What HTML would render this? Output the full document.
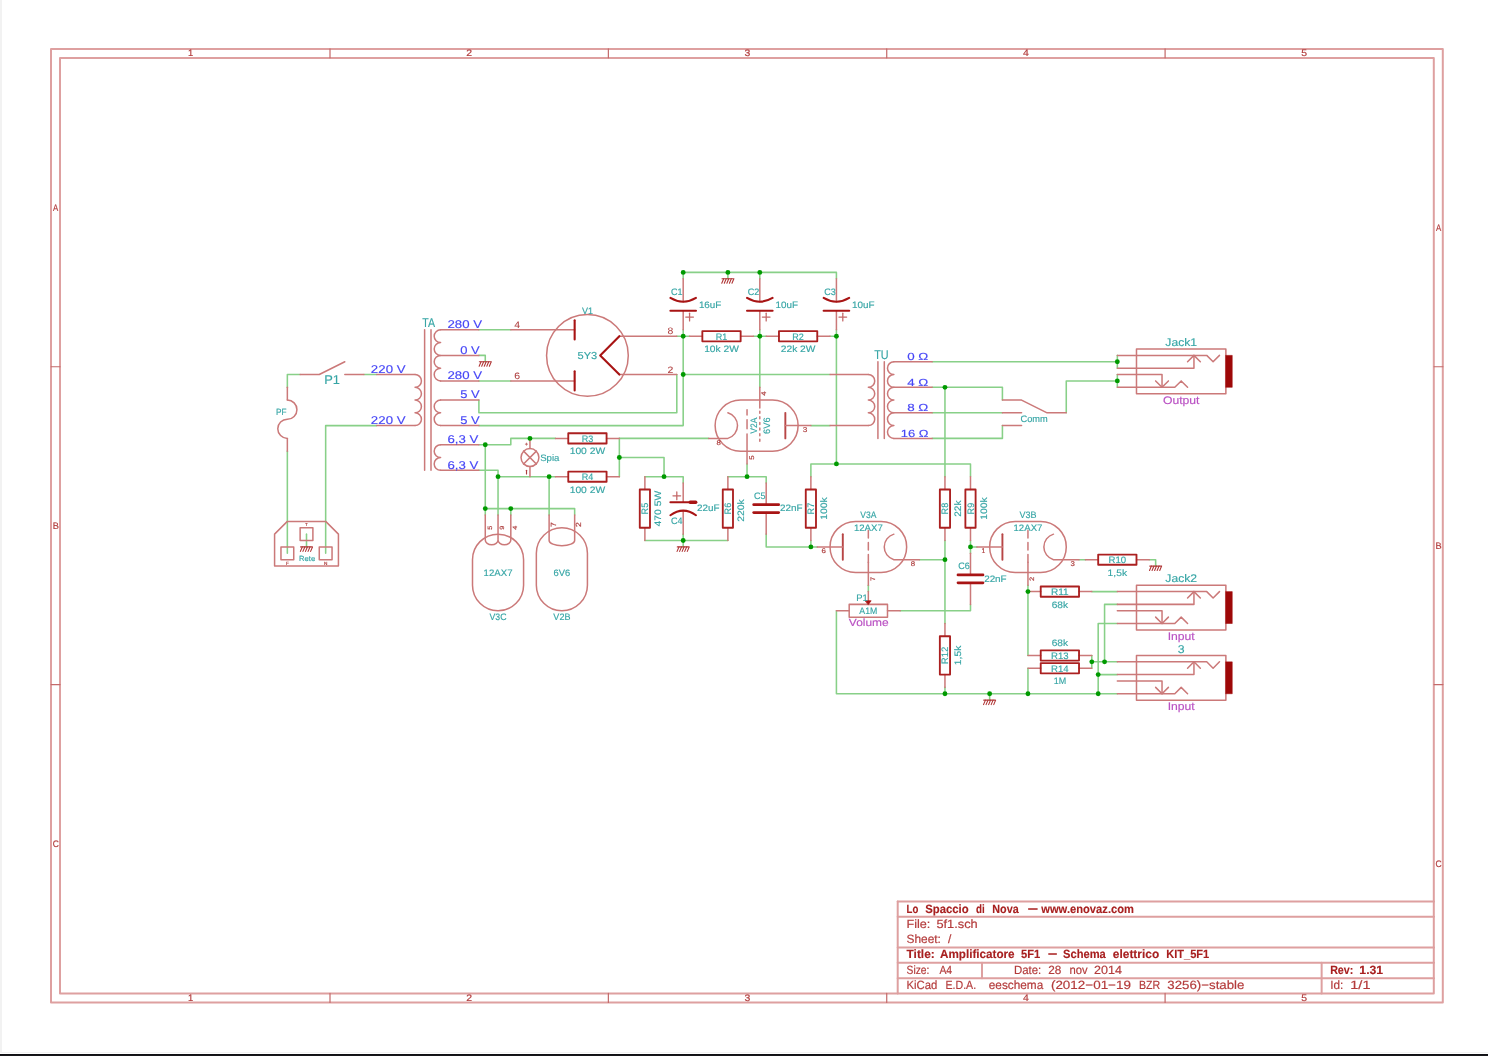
<!DOCTYPE html>
<html lang="it"><head><meta charset="utf-8"><title>Amplificatore 5F1 - Schema elettrico KIT_5F1</title>
<style>
html,body{margin:0;padding:0;background:#fff;}
body{width:1488px;height:1056px;overflow:hidden;position:relative;}
#edgeL{position:absolute;left:0;top:0;width:2px;height:1053px;background:#f2f2f2;}
#edgeG{position:absolute;left:0;top:1052px;width:1488px;height:1px;background:#f3f3f3;}
#edgeB{position:absolute;left:0;top:1054px;width:1488px;height:2px;background:linear-gradient(#0d0d11,#1b1b1f);}
svg{position:absolute;left:0;top:0;will-change:transform;}
svg text{font-family:"Liberation Sans",sans-serif;text-rendering:geometricPrecision;}
svg path,svg rect,svg circle{stroke-linecap:round;stroke-linejoin:round;}
</style></head><body>
<svg width="1488" height="1056" viewBox="0 0 1488 1056">
<g transform="translate(0.05,-2.15) scale(0.12769)">
<g stroke="#dea0a0" stroke-width="15.66" fill="none">
<rect x="399.01" y="400.58" width="10899.84" height="7467.30"/>
<rect x="469.50" y="471.06" width="10758.87" height="7326.34"/>
<path d="M2584,400 V470 M2584,7797 V7867" stroke="#c46a6a" stroke-width="9.5" stroke-linecap="butt"/>
<path d="M4764,400 V470 M4764,7797 V7867" stroke="#c46a6a" stroke-width="9.5" stroke-linecap="butt"/>
<path d="M6944,400 V470 M6944,7797 V7867" stroke="#c46a6a" stroke-width="9.5" stroke-linecap="butt"/>
<path d="M9124,400 V470 M9124,7797 V7867" stroke="#c46a6a" stroke-width="9.5" stroke-linecap="butt"/>
<path d="M400,2889 H470 M11230,2889 H11300" stroke="#c46a6a" stroke-width="9.5" stroke-linecap="butt"/>
<path d="M400,5378 H470 M11230,5378 H11300" stroke="#c46a6a" stroke-width="9.5" stroke-linecap="butt"/>
<path d="M7030,7077 H11230"/>
<path d="M7030,7197 H11230"/>
<path d="M7030,7437 H11230"/>
<path d="M7030,7557 H11230"/>
<path d="M7030,7677 H11230"/>
<path d="M7030,7077 V7797"/>
<path d="M7690,7557 V7677"/>
<path d="M10350,7557 V7797"/>
</g>
<text x="1493.0" y="457.2" font-size="73.3" fill="#b23c3c" stroke="#b23c3c" stroke-width="1.5" text-anchor="middle">1</text>
<text x="1493.0" y="7856.2" font-size="73.3" fill="#b23c3c" stroke="#b23c3c" stroke-width="1.5" text-anchor="middle">1</text>
<text x="3673.0" y="457.2" font-size="73.3" fill="#b23c3c" stroke="#b23c3c" stroke-width="1.5" text-anchor="middle" textLength="45.5" lengthAdjust="spacingAndGlyphs">2</text>
<text x="3673.0" y="7856.2" font-size="73.3" fill="#b23c3c" stroke="#b23c3c" stroke-width="1.5" text-anchor="middle" textLength="45.5" lengthAdjust="spacingAndGlyphs">2</text>
<text x="5853.0" y="457.2" font-size="73.3" fill="#b23c3c" stroke="#b23c3c" stroke-width="1.5" text-anchor="middle" textLength="45.5" lengthAdjust="spacingAndGlyphs">3</text>
<text x="5853.0" y="7856.2" font-size="73.3" fill="#b23c3c" stroke="#b23c3c" stroke-width="1.5" text-anchor="middle" textLength="45.5" lengthAdjust="spacingAndGlyphs">3</text>
<text x="8033.0" y="457.2" font-size="73.3" fill="#b23c3c" stroke="#b23c3c" stroke-width="1.5" text-anchor="middle" textLength="45.5" lengthAdjust="spacingAndGlyphs">4</text>
<text x="8033.0" y="7856.2" font-size="73.3" fill="#b23c3c" stroke="#b23c3c" stroke-width="1.5" text-anchor="middle" textLength="45.5" lengthAdjust="spacingAndGlyphs">4</text>
<text x="10213.0" y="457.2" font-size="73.3" fill="#b23c3c" stroke="#b23c3c" stroke-width="1.5" text-anchor="middle" textLength="45.5" lengthAdjust="spacingAndGlyphs">5</text>
<text x="10213.0" y="7856.2" font-size="73.3" fill="#b23c3c" stroke="#b23c3c" stroke-width="1.5" text-anchor="middle" textLength="45.5" lengthAdjust="spacingAndGlyphs">5</text>
<text x="436.0" y="1670.8" font-size="73.3" fill="#b23c3c" stroke="#b23c3c" stroke-width="1.5" text-anchor="middle" textLength="40.7" lengthAdjust="spacingAndGlyphs">A</text>
<text x="11266.0" y="1825.8" font-size="73.3" fill="#b23c3c" stroke="#b23c3c" stroke-width="1.5" text-anchor="middle" textLength="40.7" lengthAdjust="spacingAndGlyphs">A</text>
<text x="436.0" y="4159.8" font-size="73.3" fill="#b23c3c" stroke="#b23c3c" stroke-width="1.5" text-anchor="middle" textLength="47.9" lengthAdjust="spacingAndGlyphs">B</text>
<text x="11266.0" y="4314.8" font-size="73.3" fill="#b23c3c" stroke="#b23c3c" stroke-width="1.5" text-anchor="middle" textLength="47.9" lengthAdjust="spacingAndGlyphs">B</text>
<text x="436.0" y="6648.8" font-size="73.3" fill="#b23c3c" stroke="#b23c3c" stroke-width="1.5" text-anchor="middle" textLength="47.9" lengthAdjust="spacingAndGlyphs">C</text>
<text x="11266.0" y="6803.8" font-size="73.3" fill="#b23c3c" stroke="#b23c3c" stroke-width="1.5" text-anchor="middle" textLength="47.9" lengthAdjust="spacingAndGlyphs">C</text>
<path d="M2250,3050 L2250,2950 L2350,2950" stroke="#88d088" stroke-width="12.2" fill="none"/>
<path d="M2850,2950 L2950,2950" stroke="#88d088" stroke-width="12.2" fill="none"/>
<path d="M2250,3550 L2250,4350" stroke="#88d088" stroke-width="12.2" fill="none"/>
<path d="M2950,3350 L2550,3350 L2550,4350" stroke="#88d088" stroke-width="12.2" fill="none"/>
<path d="M2400,4200 L2400,4300" stroke="#88d088" stroke-width="12.2" fill="none"/>
<path d="M3750,2600 L4000,2600" stroke="#88d088" stroke-width="12.2" fill="none"/>
<path d="M3750,3000 L4000,3000" stroke="#88d088" stroke-width="12.2" fill="none"/>
<path d="M3750,2800 L3800,2800 L3800,2850" stroke="#88d088" stroke-width="12.2" fill="none"/>
<path d="M3750,3150 L3750,3250 L5300,3250 L5300,2950" stroke="#88d088" stroke-width="12.2" fill="none"/>
<path d="M3750,3350 L5350,3350 L5350,2600" stroke="#88d088" stroke-width="12.2" fill="none"/>
<path d="M5300,2650 L5400,2650" stroke="#88d088" stroke-width="12.2" fill="none"/>
<path d="M5350,2950 L6500,2950" stroke="#88d088" stroke-width="12.2" fill="none"/>
<path d="M5350,2200 L5350,2150 L6550,2150 L6550,2200" stroke="#88d088" stroke-width="12.2" fill="none"/>
<path d="M5700,2150 L5700,2200" stroke="#88d088" stroke-width="12.2" fill="none"/>
<path d="M5950,2150 L5950,2200" stroke="#88d088" stroke-width="12.2" fill="none"/>
<path d="M5900,2650 L6000,2650" stroke="#88d088" stroke-width="12.2" fill="none"/>
<path d="M5950,2600 L5950,3050" stroke="#88d088" stroke-width="12.2" fill="none"/>
<path d="M6500,2650 L6550,2650" stroke="#88d088" stroke-width="12.2" fill="none"/>
<path d="M6550,2600 L6550,3650" stroke="#88d088" stroke-width="12.2" fill="none"/>
<path d="M3750,3500 L4000,3500 L4000,3450 L4350,3450" stroke="#88d088" stroke-width="12.2" fill="none"/>
<path d="M3750,3700 L3900,3700 L3900,3750 L4350,3750" stroke="#88d088" stroke-width="12.2" fill="none"/>
<path d="M3800,3500 L3800,4050" stroke="#88d088" stroke-width="12.2" fill="none"/>
<path d="M3900,3750 L3900,4050" stroke="#88d088" stroke-width="12.2" fill="none"/>
<path d="M3800,4000 L4500,4000 L4500,4050" stroke="#88d088" stroke-width="12.2" fill="none"/>
<path d="M4000,4000 L4000,4050" stroke="#88d088" stroke-width="12.2" fill="none"/>
<path d="M4300,3750 L4300,4050" stroke="#88d088" stroke-width="12.2" fill="none"/>
<path d="M4850,3450 L5550,3450" stroke="#88d088" stroke-width="12.2" fill="none"/>
<path d="M4850,3450 L4850,3750" stroke="#88d088" stroke-width="12.2" fill="none"/>
<path d="M4850,3600 L5200,3600 L5200,3750" stroke="#88d088" stroke-width="12.2" fill="none"/>
<path d="M5050,3750 L5350,3750 L5350,3800" stroke="#88d088" stroke-width="12.2" fill="none"/>
<path d="M5050,4250 L5700,4250" stroke="#88d088" stroke-width="12.2" fill="none"/>
<path d="M5350,4200 L5350,4300" stroke="#88d088" stroke-width="12.2" fill="none"/>
<path d="M5850,3650 L5850,3750" stroke="#88d088" stroke-width="12.2" fill="none"/>
<path d="M5700,3750 L6000,3750 L6000,3800" stroke="#88d088" stroke-width="12.2" fill="none"/>
<path d="M6000,4200 L6000,4300 L6400,4300" stroke="#88d088" stroke-width="12.2" fill="none"/>
<path d="M6350,4250 L6350,4300" stroke="#88d088" stroke-width="12.2" fill="none"/>
<path d="M6350,3750 L6350,3650 L7600,3650 L7600,3750" stroke="#88d088" stroke-width="12.2" fill="none"/>
<path d="M6350,3350 L6500,3350" stroke="#88d088" stroke-width="12.2" fill="none"/>
<path d="M7300,2850 L8750,2850" stroke="#88d088" stroke-width="12.2" fill="none"/>
<path d="M7300,3050 L7850,3050 L7850,3150" stroke="#88d088" stroke-width="12.2" fill="none"/>
<path d="M7300,3250 L7850,3250" stroke="#88d088" stroke-width="12.2" fill="none"/>
<path d="M7300,3450 L7850,3450 L7850,3350" stroke="#88d088" stroke-width="12.2" fill="none"/>
<path d="M7400,3050 L7400,3750" stroke="#88d088" stroke-width="12.2" fill="none"/>
<path d="M8350,3250 L8350,3000 L8750,3000" stroke="#88d088" stroke-width="12.2" fill="none"/>
<path d="M8750,2800 L8750,2900" stroke="#88d088" stroke-width="12.2" fill="none"/>
<path d="M8750,2950 L8750,3050" stroke="#88d088" stroke-width="12.2" fill="none"/>
<path d="M6800,4600 L6800,4650" stroke="#88d088" stroke-width="12.2" fill="none"/>
<path d="M7200,4400 L7400,4400" stroke="#88d088" stroke-width="12.2" fill="none"/>
<path d="M7400,4250 L7400,4900" stroke="#88d088" stroke-width="12.2" fill="none"/>
<path d="M7400,5400 L7400,5450" stroke="#88d088" stroke-width="12.2" fill="none"/>
<path d="M6550,4800 L6550,5450 L8750,5450" stroke="#88d088" stroke-width="12.2" fill="none"/>
<path d="M7050,4800 L7600,4800 L7600,4750" stroke="#88d088" stroke-width="12.2" fill="none"/>
<path d="M7600,4250 L7600,4350" stroke="#88d088" stroke-width="12.2" fill="none"/>
<path d="M7600,4300 L7650,4300" stroke="#88d088" stroke-width="12.2" fill="none"/>
<path d="M8450,4400 L8500,4400" stroke="#88d088" stroke-width="12.2" fill="none"/>
<path d="M9000,4400 L9050,4400 L9050,4450" stroke="#88d088" stroke-width="12.2" fill="none"/>
<path d="M8050,4600 L8050,5150" stroke="#88d088" stroke-width="12.2" fill="none"/>
<path d="M8050,5250 L8050,5450" stroke="#88d088" stroke-width="12.2" fill="none"/>
<path d="M8550,4650 L8750,4650" stroke="#88d088" stroke-width="12.2" fill="none"/>
<path d="M8550,5150 L8550,5250" stroke="#88d088" stroke-width="12.2" fill="none"/>
<path d="M8550,5200 L8750,5200" stroke="#88d088" stroke-width="12.2" fill="none"/>
<path d="M8650,5200 L8650,4750 L8750,4750" stroke="#88d088" stroke-width="12.2" fill="none"/>
<path d="M8750,4900 L8600,4900 L8600,5450" stroke="#88d088" stroke-width="12.2" fill="none"/>
<path d="M8600,5300 L8750,5300" stroke="#88d088" stroke-width="12.2" fill="none"/>
<path d="M7750,5450 L7750,5500" stroke="#88d088" stroke-width="12.2" fill="none"/>
<path d="M2250,4100 L2550,4100 L2650,4200 L2650,4450 L2150,4450 L2150,4200 Z" stroke="#cb7979" stroke-width="11.8" fill="none"/>
<rect x="2200" y="4300" width="100" height="100" stroke="#cb7979" stroke-width="11.8" fill="none"/>
<rect x="2500" y="4300" width="100" height="100" stroke="#cb7979" stroke-width="11.8" fill="none"/>
<rect x="2350" y="4150" width="100" height="100" stroke="#cb7979" stroke-width="11.8" fill="none"/>
<path d="M2354,4300 L2442,4300" stroke="#b03636" stroke-width="9" fill="none"/>
<path d="M2367,4300 L2352,4335" stroke="#b03636" stroke-width="8.5" fill="none"/>
<path d="M2387,4300 L2372,4335" stroke="#b03636" stroke-width="8.5" fill="none"/>
<path d="M2407,4300 L2392,4335" stroke="#b03636" stroke-width="8.5" fill="none"/>
<path d="M2427,4300 L2412,4335" stroke="#b03636" stroke-width="8.5" fill="none"/>
<path d="M2447,4300 L2432,4335" stroke="#b03636" stroke-width="8.5" fill="none"/>
<text x="2405.0" y="4413.0" font-size="58.7" fill="#36a5a5" stroke="#36a5a5" stroke-width="1.2" text-anchor="middle" textLength="125.7" lengthAdjust="spacingAndGlyphs">Rete</text>
<text x="2400.0" y="4134.6" font-size="32.3" fill="#ae3e3e" stroke="#ae3e3e" stroke-width="1.6" text-anchor="middle" textLength="18.6" lengthAdjust="spacingAndGlyphs">T</text>
<text x="2250.0" y="4439.6" font-size="35.2" fill="#ae3e3e" stroke="#ae3e3e" stroke-width="1.6" text-anchor="middle" textLength="22.1" lengthAdjust="spacingAndGlyphs">F</text>
<text x="2550.0" y="4439.6" font-size="35.2" fill="#ae3e3e" stroke="#ae3e3e" stroke-width="1.6" text-anchor="middle" textLength="26.7" lengthAdjust="spacingAndGlyphs">N</text>
<path d="M2250,3050 L2250,3150" stroke="#cb7979" stroke-width="11.8" fill="none"/>
<path d="M2250,3150 A75,75 0 0 1 2250,3300 A75,75 0 0 0 2250,3450" stroke="#cb7979" stroke-width="11.8" fill="none"/>
<path d="M2250,3450 L2250,3550" stroke="#cb7979" stroke-width="11.8" fill="none"/>
<text x="2203.0" y="3268.2" font-size="70.4" fill="#36a5a5" stroke="#36a5a5" stroke-width="1.2" text-anchor="middle" textLength="82.3" lengthAdjust="spacingAndGlyphs">PF</text>
<path d="M2350,2950 L2500,2950 L2700,2850" stroke="#cb7979" stroke-width="11.8" fill="none"/>
<path d="M2700,2950 L2850,2950" stroke="#cb7979" stroke-width="11.8" fill="none"/>
<text x="2600.0" y="3027.7" font-size="99.7" fill="#36a5a5" stroke="#36a5a5" stroke-width="1.2" text-anchor="middle" textLength="123.0" lengthAdjust="spacingAndGlyphs">P1</text>
<path d="M3325,2600 L3325,3700" stroke="#cb7979" stroke-width="11.8" fill="none"/>
<path d="M3375,2600 L3375,3700" stroke="#cb7979" stroke-width="11.8" fill="none"/>
<path d="M2950,2950 L3250,2950" stroke="#cb7979" stroke-width="11.8" fill="none"/>
<path d="M2950,3350 L3250,3350" stroke="#cb7979" stroke-width="11.8" fill="none"/>
<path d="M3250,2950 A50,50 0 0 1 3250,3050 A50,50 0 0 1 3250,3150 A50,50 0 0 1 3250,3250 A50,50 0 0 1 3250,3350" stroke="#cb7979" stroke-width="11.8" fill="none"/>
<path d="M3450,2600 A50,50 0 0 0 3450,2700 A50,50 0 0 0 3450,2800 A50,50 0 0 0 3450,2900 A50,50 0 0 0 3450,3000" stroke="#cb7979" stroke-width="11.8" fill="none"/>
<path d="M3450,3150 A50,50 0 0 0 3450,3250 A50,50 0 0 0 3450,3350" stroke="#cb7979" stroke-width="11.8" fill="none"/>
<path d="M3450,3500 A50,50 0 0 0 3450,3600 A50,50 0 0 0 3450,3700" stroke="#cb7979" stroke-width="11.8" fill="none"/>
<path d="M3450,2600 L3750,2600" stroke="#cb7979" stroke-width="11.8" fill="none"/>
<path d="M3450,2800 L3750,2800" stroke="#cb7979" stroke-width="11.8" fill="none"/>
<path d="M3450,3000 L3750,3000" stroke="#cb7979" stroke-width="11.8" fill="none"/>
<path d="M3450,3150 L3750,3150" stroke="#cb7979" stroke-width="11.8" fill="none"/>
<path d="M3450,3350 L3750,3350" stroke="#cb7979" stroke-width="11.8" fill="none"/>
<path d="M3450,3500 L3750,3500" stroke="#cb7979" stroke-width="11.8" fill="none"/>
<path d="M3450,3700 L3750,3700" stroke="#cb7979" stroke-width="11.8" fill="none"/>
<text x="3357.0" y="2578.7" font-size="99.7" fill="#36a5a5" stroke="#36a5a5" stroke-width="1.2" text-anchor="middle" textLength="100.4" lengthAdjust="spacingAndGlyphs">TA</text>
<text x="3504.0" y="2586.0" font-size="88.0" fill="#4646f6" stroke="#4646f6" stroke-width="1.2" text-anchor="start" textLength="271.7" lengthAdjust="spacingAndGlyphs">280 V</text>
<text x="3604.0" y="2786.0" font-size="88.0" fill="#4646f6" stroke="#4646f6" stroke-width="1.2" text-anchor="start" textLength="152.3" lengthAdjust="spacingAndGlyphs">0 V</text>
<text x="3504.0" y="2986.0" font-size="88.0" fill="#4646f6" stroke="#4646f6" stroke-width="1.2" text-anchor="start" textLength="271.7" lengthAdjust="spacingAndGlyphs">280 V</text>
<text x="3604.0" y="3136.0" font-size="88.0" fill="#4646f6" stroke="#4646f6" stroke-width="1.2" text-anchor="start" textLength="152.3" lengthAdjust="spacingAndGlyphs">5 V</text>
<text x="3604.0" y="3336.0" font-size="88.0" fill="#4646f6" stroke="#4646f6" stroke-width="1.2" text-anchor="start" textLength="152.3" lengthAdjust="spacingAndGlyphs">5 V</text>
<text x="3504.0" y="3486.0" font-size="88.0" fill="#4646f6" stroke="#4646f6" stroke-width="1.2" text-anchor="start" textLength="241.8" lengthAdjust="spacingAndGlyphs">6,3 V</text>
<text x="3504.0" y="3686.0" font-size="88.0" fill="#4646f6" stroke="#4646f6" stroke-width="1.2" text-anchor="start" textLength="241.8" lengthAdjust="spacingAndGlyphs">6,3 V</text>
<text x="2904.0" y="2936.0" font-size="88.0" fill="#4646f6" stroke="#4646f6" stroke-width="1.2" text-anchor="start" textLength="271.7" lengthAdjust="spacingAndGlyphs">220 V</text>
<text x="2904.0" y="3336.0" font-size="88.0" fill="#4646f6" stroke="#4646f6" stroke-width="1.2" text-anchor="start" textLength="271.7" lengthAdjust="spacingAndGlyphs">220 V</text>
<path d="M3754,2850 L3842,2850" stroke="#b03636" stroke-width="9" fill="none"/>
<path d="M3767,2850 L3752,2885" stroke="#b03636" stroke-width="8.5" fill="none"/>
<path d="M3787,2850 L3772,2885" stroke="#b03636" stroke-width="8.5" fill="none"/>
<path d="M3807,2850 L3792,2885" stroke="#b03636" stroke-width="8.5" fill="none"/>
<path d="M3827,2850 L3812,2885" stroke="#b03636" stroke-width="8.5" fill="none"/>
<path d="M3847,2850 L3832,2885" stroke="#b03636" stroke-width="8.5" fill="none"/>
<circle cx="4600" cy="2800" r="320" stroke="#cb7979" stroke-width="11.8" fill="none"/>
<path d="M4000,2600 L4500,2600" stroke="#cb7979" stroke-width="11.8" fill="none"/>
<path d="M4000,3000 L4500,3000" stroke="#cb7979" stroke-width="11.8" fill="none"/>
<path d="M4500,2525 L4500,2675" stroke="#a81414" stroke-width="16.5" fill="none"/>
<path d="M4500,2925 L4500,3075" stroke="#a81414" stroke-width="16.5" fill="none"/>
<path d="M4850,2650 L5300,2650" stroke="#cb7979" stroke-width="11.8" fill="none"/>
<path d="M4850,2950 L5300,2950" stroke="#cb7979" stroke-width="11.8" fill="none"/>
<path d="M4850,2650 L4700,2800 L4850,2950" stroke="#a81414" stroke-width="16.5" fill="none"/>
<text x="4050.0" y="2588.2" font-size="73.3" fill="#ae3e3e" stroke="#ae3e3e" stroke-width="0.5" text-anchor="middle" textLength="45.5" lengthAdjust="spacingAndGlyphs">4</text>
<text x="4050.0" y="2988.2" font-size="73.3" fill="#ae3e3e" stroke="#ae3e3e" stroke-width="0.5" text-anchor="middle" textLength="45.5" lengthAdjust="spacingAndGlyphs">6</text>
<text x="5250.0" y="2634.2" font-size="73.3" fill="#ae3e3e" stroke="#ae3e3e" stroke-width="0.5" text-anchor="middle" textLength="45.5" lengthAdjust="spacingAndGlyphs">8</text>
<text x="5250.0" y="2934.2" font-size="73.3" fill="#ae3e3e" stroke="#ae3e3e" stroke-width="0.5" text-anchor="middle" textLength="45.5" lengthAdjust="spacingAndGlyphs">2</text>
<text x="4600.0" y="2476.2" font-size="73.3" fill="#36a5a5" stroke="#36a5a5" stroke-width="1.2" text-anchor="middle" textLength="86.7" lengthAdjust="spacingAndGlyphs">V1</text>
<text x="4600.0" y="2828.3" font-size="79.2" fill="#36a5a5" stroke="#36a5a5" stroke-width="1.2" text-anchor="middle" textLength="154.5" lengthAdjust="spacingAndGlyphs">5Y3</text>
<path d="M5654,2200 L5742,2200" stroke="#b03636" stroke-width="9" fill="none"/>
<path d="M5667,2200 L5652,2235" stroke="#b03636" stroke-width="8.5" fill="none"/>
<path d="M5687,2200 L5672,2235" stroke="#b03636" stroke-width="8.5" fill="none"/>
<path d="M5707,2200 L5692,2235" stroke="#b03636" stroke-width="8.5" fill="none"/>
<path d="M5727,2200 L5712,2235" stroke="#b03636" stroke-width="8.5" fill="none"/>
<path d="M5747,2200 L5732,2235" stroke="#b03636" stroke-width="8.5" fill="none"/>
<path d="M5350,2200 L5350,2380" stroke="#cb7979" stroke-width="11.8" fill="none"/>
<path d="M5350,2450 L5350,2600" stroke="#cb7979" stroke-width="11.8" fill="none"/>
<path d="M5250,2350 Q5350,2410 5450,2350" stroke="#a81414" stroke-width="16.5" fill="none"/>
<path d="M5250,2450 L5450,2450" stroke="#a81414" stroke-width="16.5" fill="none"/>
<path d="M5370,2500 L5430,2500" stroke="#c46868" stroke-width="10" fill="none"/>
<path d="M5400,2470 L5400,2530" stroke="#c46868" stroke-width="10" fill="none"/>
<text x="5300.0" y="2326.2" font-size="73.3" fill="#36a5a5" stroke="#36a5a5" stroke-width="1.2" text-anchor="middle" textLength="90.5" lengthAdjust="spacingAndGlyphs">C1</text>
<text x="5561.0" y="2426.2" font-size="73.3" fill="#36a5a5" stroke="#36a5a5" stroke-width="1.2" text-anchor="middle" textLength="176.2" lengthAdjust="spacingAndGlyphs">16uF</text>
<path d="M5950,2200 L5950,2380" stroke="#cb7979" stroke-width="11.8" fill="none"/>
<path d="M5950,2450 L5950,2600" stroke="#cb7979" stroke-width="11.8" fill="none"/>
<path d="M5850,2350 Q5950,2410 6050,2350" stroke="#a81414" stroke-width="16.5" fill="none"/>
<path d="M5850,2450 L6050,2450" stroke="#a81414" stroke-width="16.5" fill="none"/>
<path d="M5970,2500 L6030,2500" stroke="#c46868" stroke-width="10" fill="none"/>
<path d="M6000,2470 L6000,2530" stroke="#c46868" stroke-width="10" fill="none"/>
<text x="5900.0" y="2326.2" font-size="73.3" fill="#36a5a5" stroke="#36a5a5" stroke-width="1.2" text-anchor="middle" textLength="90.5" lengthAdjust="spacingAndGlyphs">C2</text>
<text x="6161.0" y="2426.2" font-size="73.3" fill="#36a5a5" stroke="#36a5a5" stroke-width="1.2" text-anchor="middle" textLength="176.2" lengthAdjust="spacingAndGlyphs">10uF</text>
<path d="M6550,2200 L6550,2380" stroke="#cb7979" stroke-width="11.8" fill="none"/>
<path d="M6550,2450 L6550,2600" stroke="#cb7979" stroke-width="11.8" fill="none"/>
<path d="M6450,2350 Q6550,2410 6650,2350" stroke="#a81414" stroke-width="16.5" fill="none"/>
<path d="M6450,2450 L6650,2450" stroke="#a81414" stroke-width="16.5" fill="none"/>
<path d="M6570,2500 L6630,2500" stroke="#c46868" stroke-width="10" fill="none"/>
<path d="M6600,2470 L6600,2530" stroke="#c46868" stroke-width="10" fill="none"/>
<text x="6500.0" y="2326.2" font-size="73.3" fill="#36a5a5" stroke="#36a5a5" stroke-width="1.2" text-anchor="middle" textLength="90.5" lengthAdjust="spacingAndGlyphs">C3</text>
<text x="6761.0" y="2426.2" font-size="73.3" fill="#36a5a5" stroke="#36a5a5" stroke-width="1.2" text-anchor="middle" textLength="176.2" lengthAdjust="spacingAndGlyphs">10uF</text>
<path d="M5400,2650 L5500,2650" stroke="#cb7979" stroke-width="11.8" fill="none"/>
<path d="M5800,2650 L5900,2650" stroke="#cb7979" stroke-width="11.8" fill="none"/>
<rect x="5500" y="2610" width="300" height="80" stroke="#ab2020" stroke-width="14.5" fill="none"/>
<text x="5650.0" y="2676.2" font-size="73.3" fill="#36a5a5" stroke="#36a5a5" stroke-width="1.2" text-anchor="middle" textLength="90.5" lengthAdjust="spacingAndGlyphs">R1</text>
<text x="5650.0" y="2776.2" font-size="73.3" fill="#36a5a5" stroke="#36a5a5" stroke-width="1.2" text-anchor="middle" textLength="271.4" lengthAdjust="spacingAndGlyphs">10k 2W</text>
<path d="M6000,2650 L6100,2650" stroke="#cb7979" stroke-width="11.8" fill="none"/>
<path d="M6400,2650 L6500,2650" stroke="#cb7979" stroke-width="11.8" fill="none"/>
<rect x="6100" y="2610" width="300" height="80" stroke="#ab2020" stroke-width="14.5" fill="none"/>
<text x="6250.0" y="2676.2" font-size="73.3" fill="#36a5a5" stroke="#36a5a5" stroke-width="1.2" text-anchor="middle" textLength="90.5" lengthAdjust="spacingAndGlyphs">R2</text>
<text x="6250.0" y="2776.2" font-size="73.3" fill="#36a5a5" stroke="#36a5a5" stroke-width="1.2" text-anchor="middle" textLength="271.4" lengthAdjust="spacingAndGlyphs">22k 2W</text>
<path d="M5800,3150 H6050 A200,200 0 0 1 6050,3550 H5800 A200,200 0 0 1 5800,3150 Z" stroke="#cb7979" stroke-width="11.8" fill="none"/>
<path d="M5950,3050 L5950,3212" stroke="#cb7979" stroke-width="11.8" fill="none"/>
<path d="M5950,3237 L5950,3480" stroke="#cb7979" stroke-width="11.8" fill="none" stroke-dasharray="16 28" stroke-linecap="butt"/>
<path d="M5850,3226 L5850,3266" stroke="#cb7979" stroke-width="11.8" fill="none"/>
<path d="M5850,3305 L5850,3374" stroke="#cb7979" stroke-width="11.8" fill="none"/>
<path d="M5850,3415 L5850,3650" stroke="#cb7979" stroke-width="11.8" fill="none"/>
<path d="M6150,3250 L6150,3450" stroke="#b84646" stroke-width="15" fill="none"/>
<path d="M6150,3350 L6350,3350" stroke="#cb7979" stroke-width="11.8" fill="none"/>
<path d="M5700,3250 A104,104 0 0 1 5700,3450 H5550" stroke="#cb7979" stroke-width="11.8" fill="none"/>
<text x="5980.0" y="3118.9" font-size="52.8" fill="#ae3e3e" stroke="#ae3e3e" stroke-width="1.6" text-anchor="middle" textLength="34.1" lengthAdjust="spacingAndGlyphs" transform="rotate(-90 5980.0 3100.0)">4</text>
<text x="5885.0" y="3618.9" font-size="52.8" fill="#ae3e3e" stroke="#ae3e3e" stroke-width="1.6" text-anchor="middle" textLength="34.1" lengthAdjust="spacingAndGlyphs" transform="rotate(-90 5885.0 3600.0)">5</text>
<text x="6305.0" y="3397.9" font-size="55.7" fill="#ae3e3e" stroke="#ae3e3e" stroke-width="1.6" text-anchor="middle" textLength="35.8" lengthAdjust="spacingAndGlyphs">3</text>
<text x="5628.0" y="3500.9" font-size="52.8" fill="#ae3e3e" stroke="#ae3e3e" stroke-width="1.6" text-anchor="middle" textLength="34.1" lengthAdjust="spacingAndGlyphs">8</text>
<text x="5900.0" y="3376.2" font-size="73.3" fill="#36a5a5" stroke="#36a5a5" stroke-width="1.2" text-anchor="middle" textLength="126.2" lengthAdjust="spacingAndGlyphs" transform="rotate(-90 5900.0 3350.0)">V2A</text>
<text x="6000.0" y="3376.2" font-size="73.3" fill="#36a5a5" stroke="#36a5a5" stroke-width="1.2" text-anchor="middle" textLength="131.0" lengthAdjust="spacingAndGlyphs" transform="rotate(-90 6000.0 3350.0)">6V6</text>
<path d="M6875,2850 L6875,3450" stroke="#cb7979" stroke-width="11.8" fill="none"/>
<path d="M6925,2850 L6925,3450" stroke="#cb7979" stroke-width="11.8" fill="none"/>
<path d="M6500,2950 L6800,2950" stroke="#cb7979" stroke-width="11.8" fill="none"/>
<path d="M6500,3350 L6800,3350" stroke="#cb7979" stroke-width="11.8" fill="none"/>
<path d="M6800,2950 A50,50 0 0 1 6800,3050 A50,50 0 0 1 6800,3150 A50,50 0 0 1 6800,3250 A50,50 0 0 1 6800,3350" stroke="#cb7979" stroke-width="11.8" fill="none"/>
<path d="M7000,2850 A50,50 0 0 0 7000,2950 A50,50 0 0 0 7000,3050 A50,50 0 0 0 7000,3150 A50,50 0 0 0 7000,3250 A50,50 0 0 0 7000,3350 A50,50 0 0 0 7000,3450" stroke="#cb7979" stroke-width="11.8" fill="none"/>
<path d="M7000,2850 L7300,2850" stroke="#cb7979" stroke-width="11.8" fill="none"/>
<path d="M7000,3050 L7300,3050" stroke="#cb7979" stroke-width="11.8" fill="none"/>
<path d="M7000,3250 L7300,3250" stroke="#cb7979" stroke-width="11.8" fill="none"/>
<path d="M7000,3450 L7300,3450" stroke="#cb7979" stroke-width="11.8" fill="none"/>
<text x="6902.0" y="2831.7" font-size="99.7" fill="#36a5a5" stroke="#36a5a5" stroke-width="1.2" text-anchor="middle" textLength="113.3" lengthAdjust="spacingAndGlyphs">TU</text>
<text x="7104.0" y="2836.0" font-size="80.7" fill="#4646f6" stroke="#4646f6" stroke-width="1.2" text-anchor="start" textLength="166.0" lengthAdjust="spacingAndGlyphs">0 Ω</text>
<text x="7104.0" y="3036.0" font-size="80.7" fill="#4646f6" stroke="#4646f6" stroke-width="1.2" text-anchor="start" textLength="166.0" lengthAdjust="spacingAndGlyphs">4 Ω</text>
<text x="7104.0" y="3236.0" font-size="80.7" fill="#4646f6" stroke="#4646f6" stroke-width="1.2" text-anchor="start" textLength="166.0" lengthAdjust="spacingAndGlyphs">8 Ω</text>
<text x="7054.0" y="3436.0" font-size="80.7" fill="#4646f6" stroke="#4646f6" stroke-width="1.2" text-anchor="start" textLength="217.7" lengthAdjust="spacingAndGlyphs">16 Ω</text>
<path d="M7850,3150 L8000,3150 L8200,3250 L8350,3250" stroke="#cb7979" stroke-width="11.8" fill="none"/>
<path d="M7850,3250 L8000,3250" stroke="#cb7979" stroke-width="11.8" fill="none"/>
<path d="M7850,3350 L8000,3350" stroke="#cb7979" stroke-width="11.8" fill="none"/>
<text x="8098.0" y="3322.2" font-size="73.3" fill="#36a5a5" stroke="#36a5a5" stroke-width="1.2" text-anchor="middle" textLength="212.5" lengthAdjust="spacingAndGlyphs">Comm</text>
<rect x="8900" y="2750" width="700" height="350" stroke="#cb7979" stroke-width="11.8" fill="none"/>
<rect x="9600" y="2800" width="50" height="250" stroke="#9e0808" stroke-width="4" fill="#9e0808"/>
<path d="M8750,2800 L9450,2800 L9500,2850 L9550,2800" stroke="#cb7979" stroke-width="11.8" fill="none"/>
<path d="M8750,2900 L9350,2900 L9350,2800" stroke="#cb7979" stroke-width="11.8" fill="none"/>
<path d="M9300,2850 L9350,2800 L9400,2850" stroke="#cb7979" stroke-width="11.8" fill="none"/>
<path d="M8750,2950 L9100,2950 L9100,3050" stroke="#cb7979" stroke-width="11.8" fill="none"/>
<path d="M9050,3000 L9100,3050 L9150,3000" stroke="#cb7979" stroke-width="11.8" fill="none"/>
<path d="M8750,3050 L9200,3050 L9250,3000 L9300,3050" stroke="#cb7979" stroke-width="11.8" fill="none"/>
<text x="9250.0" y="2726.0" font-size="86.5" fill="#36a5a5" stroke="#36a5a5" stroke-width="1.2" text-anchor="middle" textLength="248.6" lengthAdjust="spacingAndGlyphs">Jack1</text>
<text x="9250.0" y="3178.0" font-size="86.5" fill="#ba52c3" stroke="#ba52c3" stroke-width="1.2" text-anchor="middle" textLength="285.7" lengthAdjust="spacingAndGlyphs">Output</text>
<rect x="8900" y="4600" width="700" height="350" stroke="#cb7979" stroke-width="11.8" fill="none"/>
<rect x="9600" y="4650" width="50" height="250" stroke="#9e0808" stroke-width="4" fill="#9e0808"/>
<path d="M8750,4650 L9450,4650 L9500,4700 L9550,4650" stroke="#cb7979" stroke-width="11.8" fill="none"/>
<path d="M8750,4750 L9350,4750 L9350,4650" stroke="#cb7979" stroke-width="11.8" fill="none"/>
<path d="M9300,4700 L9350,4650 L9400,4700" stroke="#cb7979" stroke-width="11.8" fill="none"/>
<path d="M8750,4800 L9100,4800 L9100,4900" stroke="#cb7979" stroke-width="11.8" fill="none"/>
<path d="M9050,4850 L9100,4900 L9150,4850" stroke="#cb7979" stroke-width="11.8" fill="none"/>
<path d="M8750,4900 L9200,4900 L9250,4850 L9300,4900" stroke="#cb7979" stroke-width="11.8" fill="none"/>
<text x="9250.0" y="4576.0" font-size="86.5" fill="#36a5a5" stroke="#36a5a5" stroke-width="1.2" text-anchor="middle" textLength="248.6" lengthAdjust="spacingAndGlyphs">Jack2</text>
<text x="9250.0" y="5028.0" font-size="86.5" fill="#ba52c3" stroke="#ba52c3" stroke-width="1.2" text-anchor="middle" textLength="211.4" lengthAdjust="spacingAndGlyphs">Input</text>
<rect x="8900" y="5150" width="700" height="350" stroke="#cb7979" stroke-width="11.8" fill="none"/>
<rect x="9600" y="5200" width="50" height="250" stroke="#9e0808" stroke-width="4" fill="#9e0808"/>
<path d="M8750,5200 L9450,5200 L9500,5250 L9550,5200" stroke="#cb7979" stroke-width="11.8" fill="none"/>
<path d="M8750,5300 L9350,5300 L9350,5200" stroke="#cb7979" stroke-width="11.8" fill="none"/>
<path d="M9300,5250 L9350,5200 L9400,5250" stroke="#cb7979" stroke-width="11.8" fill="none"/>
<path d="M8750,5350 L9100,5350 L9100,5450" stroke="#cb7979" stroke-width="11.8" fill="none"/>
<path d="M9050,5400 L9100,5450 L9150,5400" stroke="#cb7979" stroke-width="11.8" fill="none"/>
<path d="M8750,5450 L9200,5450 L9250,5400 L9300,5450" stroke="#cb7979" stroke-width="11.8" fill="none"/>
<text x="9250.0" y="5578.0" font-size="86.5" fill="#ba52c3" stroke="#ba52c3" stroke-width="1.2" text-anchor="middle" textLength="211.4" lengthAdjust="spacingAndGlyphs">Input</text>
<text x="9250.0" y="5127.5" font-size="88.0" fill="#36a5a5" stroke="#36a5a5" stroke-width="1.2" text-anchor="middle" textLength="53.6" lengthAdjust="spacingAndGlyphs">3</text>
<circle cx="4150" cy="3600" r="70" stroke="#cb7979" stroke-width="11.8" fill="none"/>
<path d="M4100,3550 L4200,3650" stroke="#cb7979" stroke-width="11.8" fill="none"/>
<path d="M4200,3550 L4100,3650" stroke="#cb7979" stroke-width="11.8" fill="none"/>
<path d="M4150,3450 L4150,3530" stroke="#cb7979" stroke-width="11.8" fill="none"/>
<path d="M4150,3670 L4150,3750" stroke="#cb7979" stroke-width="11.8" fill="none"/>
<text x="4122.0" y="3507.8" font-size="44.0" fill="#ae3e3e" stroke="#ae3e3e" stroke-width="1.6" text-anchor="middle">+</text>
<path d="M4123,3700 L4123,3728" stroke="#ae3e3e" stroke-width="9" fill="none"/>
<text x="4230.0" y="3626.2" font-size="73.3" fill="#36a5a5" stroke="#36a5a5" stroke-width="1.2" text-anchor="start" textLength="150.0" lengthAdjust="spacingAndGlyphs">Spia</text>
<path d="M4350,3450 L4450,3450" stroke="#cb7979" stroke-width="11.8" fill="none"/>
<path d="M4750,3450 L4850,3450" stroke="#cb7979" stroke-width="11.8" fill="none"/>
<rect x="4450" y="3410" width="300" height="80" stroke="#ab2020" stroke-width="14.5" fill="none"/>
<text x="4600.0" y="3476.2" font-size="73.3" fill="#36a5a5" stroke="#36a5a5" stroke-width="1.2" text-anchor="middle" textLength="90.5" lengthAdjust="spacingAndGlyphs">R3</text>
<text x="4600.0" y="3576.2" font-size="73.3" fill="#36a5a5" stroke="#36a5a5" stroke-width="1.2" text-anchor="middle" textLength="278.6" lengthAdjust="spacingAndGlyphs">100 2W</text>
<path d="M4350,3750 L4450,3750" stroke="#cb7979" stroke-width="11.8" fill="none"/>
<path d="M4750,3750 L4850,3750" stroke="#cb7979" stroke-width="11.8" fill="none"/>
<rect x="4450" y="3710" width="300" height="80" stroke="#ab2020" stroke-width="14.5" fill="none"/>
<text x="4600.0" y="3776.2" font-size="73.3" fill="#36a5a5" stroke="#36a5a5" stroke-width="1.2" text-anchor="middle" textLength="90.5" lengthAdjust="spacingAndGlyphs">R4</text>
<text x="4600.0" y="3876.2" font-size="73.3" fill="#36a5a5" stroke="#36a5a5" stroke-width="1.2" text-anchor="middle" textLength="278.6" lengthAdjust="spacingAndGlyphs">100 2W</text>
<path d="M3700,4400 A200,200 0 0 1 4100,4400 V4600 A200,200 0 0 1 3700,4600 Z" stroke="#cb7979" stroke-width="11.8" fill="none"/>
<path d="M3800,4050 V4245 A50,38 0 0 0 3900,4245 A50,38 0 0 0 4000,4245 V4050 M3900,4050 V4245" stroke="#cb7979" stroke-width="11.8" fill="none"/>
<path d="M4200,4350 A200,200 0 0 1 4600,4350 V4600 A200,200 0 0 1 4200,4600 Z" stroke="#cb7979" stroke-width="11.8" fill="none"/>
<path d="M4300,4050 V4250 A100,40 0 0 0 4500,4250 V4050" stroke="#cb7979" stroke-width="11.8" fill="none"/>
<text x="3832.0" y="4167.3" font-size="48.4" fill="#ae3e3e" stroke="#ae3e3e" stroke-width="1.6" text-anchor="middle" textLength="31.7" lengthAdjust="spacingAndGlyphs" transform="rotate(-90 3832.0 4150.0)">5</text>
<text x="3932.0" y="4167.3" font-size="48.4" fill="#ae3e3e" stroke="#ae3e3e" stroke-width="1.6" text-anchor="middle" textLength="31.7" lengthAdjust="spacingAndGlyphs" transform="rotate(-90 3932.0 4150.0)">9</text>
<text x="4032.0" y="4167.3" font-size="48.4" fill="#ae3e3e" stroke="#ae3e3e" stroke-width="1.6" text-anchor="middle" textLength="31.7" lengthAdjust="spacingAndGlyphs" transform="rotate(-90 4032.0 4150.0)">4</text>
<text x="4332.0" y="4146.0" font-size="58.7" fill="#ae3e3e" stroke="#ae3e3e" stroke-width="1.6" text-anchor="middle" textLength="37.4" lengthAdjust="spacingAndGlyphs" transform="rotate(-90 4332.0 4125.0)">7</text>
<text x="4532.0" y="4146.0" font-size="58.7" fill="#ae3e3e" stroke="#ae3e3e" stroke-width="1.6" text-anchor="middle" textLength="37.4" lengthAdjust="spacingAndGlyphs" transform="rotate(-90 4532.0 4125.0)">2</text>
<text x="3900.0" y="4526.2" font-size="73.3" fill="#36a5a5" stroke="#36a5a5" stroke-width="1.2" text-anchor="middle" textLength="226.2" lengthAdjust="spacingAndGlyphs">12AX7</text>
<text x="3900.0" y="4876.2" font-size="73.3" fill="#36a5a5" stroke="#36a5a5" stroke-width="1.2" text-anchor="middle" textLength="133.3" lengthAdjust="spacingAndGlyphs">V3C</text>
<text x="4400.0" y="4526.2" font-size="73.3" fill="#36a5a5" stroke="#36a5a5" stroke-width="1.2" text-anchor="middle" textLength="131.0" lengthAdjust="spacingAndGlyphs">6V6</text>
<text x="4400.0" y="4876.2" font-size="73.3" fill="#36a5a5" stroke="#36a5a5" stroke-width="1.2" text-anchor="middle" textLength="133.3" lengthAdjust="spacingAndGlyphs">V2B</text>
<path d="M5050,3750 L5050,3850" stroke="#cb7979" stroke-width="11.8" fill="none"/>
<path d="M5050,4150 L5050,4250" stroke="#cb7979" stroke-width="11.8" fill="none"/>
<rect x="5010" y="3850" width="80" height="300" stroke="#ab2020" stroke-width="14.5" fill="none"/>
<text x="5050.0" y="4026.2" font-size="73.3" fill="#36a5a5" stroke="#36a5a5" stroke-width="1.2" text-anchor="middle" textLength="90.5" lengthAdjust="spacingAndGlyphs" transform="rotate(-90 5050.0 4000.0)">R5</text>
<text x="5150.0" y="4026.2" font-size="73.3" fill="#36a5a5" stroke="#36a5a5" stroke-width="1.2" text-anchor="middle" textLength="278.6" lengthAdjust="spacingAndGlyphs" transform="rotate(-90 5150.0 4000.0)">470 5W</text>
<path d="M5350,3800 L5350,3950" stroke="#cb7979" stroke-width="11.8" fill="none"/>
<path d="M5350,4020 L5350,4200" stroke="#cb7979" stroke-width="11.8" fill="none"/>
<path d="M5250,3950 L5450,3950" stroke="#a81414" stroke-width="16.5" fill="none"/>
<path d="M5405,3950 L5448,3950" stroke="#a81414" stroke-width="26.4" fill="none"/>
<path d="M5250,4052 Q5350,3980 5450,4052" stroke="#a81414" stroke-width="16.5" fill="none"/>
<path d="M5270,3900 L5330,3900" stroke="#c46868" stroke-width="10" fill="none"/>
<path d="M5300,3870 L5300,3930" stroke="#c46868" stroke-width="10" fill="none"/>
<text x="5300.0" y="4121.2" font-size="73.3" fill="#36a5a5" stroke="#36a5a5" stroke-width="1.2" text-anchor="middle" textLength="90.5" lengthAdjust="spacingAndGlyphs">C4</text>
<text x="5546.0" y="4021.2" font-size="73.3" fill="#36a5a5" stroke="#36a5a5" stroke-width="1.2" text-anchor="middle" textLength="176.2" lengthAdjust="spacingAndGlyphs">22uF</text>
<path d="M5304,4300 L5392,4300" stroke="#b03636" stroke-width="9" fill="none"/>
<path d="M5317,4300 L5302,4335" stroke="#b03636" stroke-width="8.5" fill="none"/>
<path d="M5337,4300 L5322,4335" stroke="#b03636" stroke-width="8.5" fill="none"/>
<path d="M5357,4300 L5342,4335" stroke="#b03636" stroke-width="8.5" fill="none"/>
<path d="M5377,4300 L5362,4335" stroke="#b03636" stroke-width="8.5" fill="none"/>
<path d="M5397,4300 L5382,4335" stroke="#b03636" stroke-width="8.5" fill="none"/>
<path d="M5700,3750 L5700,3850" stroke="#cb7979" stroke-width="11.8" fill="none"/>
<path d="M5700,4150 L5700,4250" stroke="#cb7979" stroke-width="11.8" fill="none"/>
<rect x="5660" y="3850" width="80" height="300" stroke="#ab2020" stroke-width="14.5" fill="none"/>
<text x="5700.0" y="4026.2" font-size="73.3" fill="#36a5a5" stroke="#36a5a5" stroke-width="1.2" text-anchor="middle" textLength="90.5" lengthAdjust="spacingAndGlyphs" transform="rotate(-90 5700.0 4000.0)">R6</text>
<text x="5800.0" y="4041.2" font-size="73.3" fill="#36a5a5" stroke="#36a5a5" stroke-width="1.2" text-anchor="middle" textLength="176.2" lengthAdjust="spacingAndGlyphs" transform="rotate(-90 5800.0 4015.0)">220k</text>
<path d="M6000,3800 L6000,3970" stroke="#cb7979" stroke-width="11.8" fill="none"/>
<path d="M6000,4030 L6000,4200" stroke="#cb7979" stroke-width="11.8" fill="none"/>
<path d="M5902,3969 L6098,3969" stroke="#a81414" stroke-width="21" fill="none"/>
<path d="M5902,4031 L6098,4031" stroke="#a81414" stroke-width="21" fill="none"/>
<text x="5950.0" y="3921.2" font-size="73.3" fill="#36a5a5" stroke="#36a5a5" stroke-width="1.2" text-anchor="middle" textLength="90.5" lengthAdjust="spacingAndGlyphs">C5</text>
<text x="6197.0" y="4021.2" font-size="73.3" fill="#36a5a5" stroke="#36a5a5" stroke-width="1.2" text-anchor="middle" textLength="176.2" lengthAdjust="spacingAndGlyphs">22nF</text>
<path d="M6350,3750 L6350,3850" stroke="#cb7979" stroke-width="11.8" fill="none"/>
<path d="M6350,4150 L6350,4250" stroke="#cb7979" stroke-width="11.8" fill="none"/>
<rect x="6310" y="3850" width="80" height="300" stroke="#ab2020" stroke-width="14.5" fill="none"/>
<text x="6350.0" y="4026.2" font-size="73.3" fill="#36a5a5" stroke="#36a5a5" stroke-width="1.2" text-anchor="middle" textLength="90.5" lengthAdjust="spacingAndGlyphs" transform="rotate(-90 6350.0 4000.0)">R7</text>
<text x="6450.0" y="4026.2" font-size="73.3" fill="#36a5a5" stroke="#36a5a5" stroke-width="1.2" text-anchor="middle" textLength="176.2" lengthAdjust="spacingAndGlyphs" transform="rotate(-90 6450.0 4000.0)">100k</text>
<path d="M6700,4100 H6900 A200,200 0 0 1 6900,4500 H6700 A200,200 0 0 1 6700,4100 Z" stroke="#cb7979" stroke-width="11.8" fill="none"/>
<path d="M6600,4200 L6600,4400" stroke="#b84646" stroke-width="15" fill="none"/>
<path d="M6400,4300 L6600,4300" stroke="#cb7979" stroke-width="11.8" fill="none"/>
<path d="M6800,4172 L6800,4420" stroke="#cb7979" stroke-width="11.8" fill="none" stroke-dasharray="58 36" stroke-linecap="butt"/>
<path d="M6800,4420 L6800,4600" stroke="#cb7979" stroke-width="11.8" fill="none"/>
<path d="M7000,4200 A104,104 0 0 0 7000,4400 H7200" stroke="#cb7979" stroke-width="11.8" fill="none"/>
<text x="6800.0" y="4076.2" font-size="73.3" fill="#36a5a5" stroke="#36a5a5" stroke-width="1.2" text-anchor="middle" textLength="126.2" lengthAdjust="spacingAndGlyphs">V3A</text>
<text x="6800.0" y="4176.2" font-size="73.3" fill="#36a5a5" stroke="#36a5a5" stroke-width="1.2" text-anchor="middle" textLength="226.2" lengthAdjust="spacingAndGlyphs">12AX7</text>
<text x="6450.0" y="4346.9" font-size="52.8" fill="#ae3e3e" stroke="#ae3e3e" stroke-width="1.6" text-anchor="middle" textLength="34.1" lengthAdjust="spacingAndGlyphs">6</text>
<text x="7150.0" y="4446.9" font-size="52.8" fill="#ae3e3e" stroke="#ae3e3e" stroke-width="1.6" text-anchor="middle" textLength="34.1" lengthAdjust="spacingAndGlyphs">8</text>
<text x="6832.0" y="4567.9" font-size="49.9" fill="#ae3e3e" stroke="#ae3e3e" stroke-width="1.6" text-anchor="middle" textLength="32.5" lengthAdjust="spacingAndGlyphs" transform="rotate(-90 6832.0 4550.0)">7</text>
<path d="M7950,4100 H8150 A200,200 0 0 1 8150,4500 H7950 A200,200 0 0 1 7950,4100 Z" stroke="#cb7979" stroke-width="11.8" fill="none"/>
<path d="M7850,4200 L7850,4400" stroke="#b84646" stroke-width="15" fill="none"/>
<path d="M7650,4300 L7850,4300" stroke="#cb7979" stroke-width="11.8" fill="none"/>
<path d="M8050,4172 L8050,4420" stroke="#cb7979" stroke-width="11.8" fill="none" stroke-dasharray="58 36" stroke-linecap="butt"/>
<path d="M8050,4420 L8050,4600" stroke="#cb7979" stroke-width="11.8" fill="none"/>
<path d="M8250,4200 A104,104 0 0 0 8250,4400 H8450" stroke="#cb7979" stroke-width="11.8" fill="none"/>
<text x="8050.0" y="4076.2" font-size="73.3" fill="#36a5a5" stroke="#36a5a5" stroke-width="1.2" text-anchor="middle" textLength="133.3" lengthAdjust="spacingAndGlyphs">V3B</text>
<text x="8050.0" y="4176.2" font-size="73.3" fill="#36a5a5" stroke="#36a5a5" stroke-width="1.2" text-anchor="middle" textLength="226.2" lengthAdjust="spacingAndGlyphs">12AX7</text>
<text x="7700.0" y="4346.9" font-size="52.8" fill="#ae3e3e" stroke="#ae3e3e" stroke-width="1.6" text-anchor="middle">1</text>
<text x="8400.0" y="4446.9" font-size="52.8" fill="#ae3e3e" stroke="#ae3e3e" stroke-width="1.6" text-anchor="middle" textLength="34.1" lengthAdjust="spacingAndGlyphs">3</text>
<text x="8082.0" y="4567.9" font-size="49.9" fill="#ae3e3e" stroke="#ae3e3e" stroke-width="1.6" text-anchor="middle" textLength="32.5" lengthAdjust="spacingAndGlyphs" transform="rotate(-90 8082.0 4550.0)">2</text>
<rect x="6650" y="4750" width="300" height="100" stroke="#cb7979" stroke-width="11.8" fill="none"/>
<path d="M6550,4800 L6650,4800" stroke="#cb7979" stroke-width="11.8" fill="none"/>
<path d="M6950,4800 L7050,4800" stroke="#cb7979" stroke-width="11.8" fill="none"/>
<path d="M6800,4650 L6800,4750" stroke="#cb7979" stroke-width="11.8" fill="none"/>
<path d="M6778,4722 L6822,4722 L6800,4750 Z" stroke="#a81414" stroke-width="6" fill="#a81414"/>
<text x="6750.0" y="4723.2" font-size="73.3" fill="#36a5a5" stroke="#36a5a5" stroke-width="1.2" text-anchor="middle" textLength="90.5" lengthAdjust="spacingAndGlyphs">P1</text>
<text x="6800.0" y="4826.2" font-size="73.3" fill="#36a5a5" stroke="#36a5a5" stroke-width="1.2" text-anchor="middle" textLength="140.5" lengthAdjust="spacingAndGlyphs">A1M</text>
<text x="6803.0" y="4921.4" font-size="82.1" fill="#ba52c3" stroke="#ba52c3" stroke-width="1.2" text-anchor="middle" textLength="311.4" lengthAdjust="spacingAndGlyphs">Volume</text>
<path d="M7400,3750 L7400,3850" stroke="#cb7979" stroke-width="11.8" fill="none"/>
<path d="M7400,4150 L7400,4250" stroke="#cb7979" stroke-width="11.8" fill="none"/>
<rect x="7360" y="3850" width="80" height="300" stroke="#ab2020" stroke-width="14.5" fill="none"/>
<text x="7400.0" y="4026.2" font-size="73.3" fill="#36a5a5" stroke="#36a5a5" stroke-width="1.2" text-anchor="middle" textLength="90.5" lengthAdjust="spacingAndGlyphs" transform="rotate(-90 7400.0 4000.0)">R8</text>
<text x="7500.0" y="4026.2" font-size="73.3" fill="#36a5a5" stroke="#36a5a5" stroke-width="1.2" text-anchor="middle" textLength="128.6" lengthAdjust="spacingAndGlyphs" transform="rotate(-90 7500.0 4000.0)">22k</text>
<path d="M7600,3750 L7600,3850" stroke="#cb7979" stroke-width="11.8" fill="none"/>
<path d="M7600,4150 L7600,4250" stroke="#cb7979" stroke-width="11.8" fill="none"/>
<rect x="7560" y="3850" width="80" height="300" stroke="#ab2020" stroke-width="14.5" fill="none"/>
<text x="7600.0" y="4026.2" font-size="73.3" fill="#36a5a5" stroke="#36a5a5" stroke-width="1.2" text-anchor="middle" textLength="90.5" lengthAdjust="spacingAndGlyphs" transform="rotate(-90 7600.0 4000.0)">R9</text>
<text x="7700.0" y="4026.2" font-size="73.3" fill="#36a5a5" stroke="#36a5a5" stroke-width="1.2" text-anchor="middle" textLength="176.2" lengthAdjust="spacingAndGlyphs" transform="rotate(-90 7700.0 4000.0)">100k</text>
<path d="M7400,4900 L7400,5000" stroke="#cb7979" stroke-width="11.8" fill="none"/>
<path d="M7400,5300 L7400,5400" stroke="#cb7979" stroke-width="11.8" fill="none"/>
<rect x="7360" y="5000" width="80" height="300" stroke="#ab2020" stroke-width="14.5" fill="none"/>
<text x="7400.0" y="5176.2" font-size="73.3" fill="#36a5a5" stroke="#36a5a5" stroke-width="1.2" text-anchor="middle" textLength="138.1" lengthAdjust="spacingAndGlyphs" transform="rotate(-90 7400.0 5150.0)">R12</text>
<text x="7500.0" y="5176.2" font-size="73.3" fill="#36a5a5" stroke="#36a5a5" stroke-width="1.2" text-anchor="middle" textLength="152.4" lengthAdjust="spacingAndGlyphs" transform="rotate(-90 7500.0 5150.0)">1,5k</text>
<path d="M7600,4350 L7600,4520" stroke="#cb7979" stroke-width="11.8" fill="none"/>
<path d="M7600,4580 L7600,4750" stroke="#cb7979" stroke-width="11.8" fill="none"/>
<path d="M7502,4519 L7698,4519" stroke="#a81414" stroke-width="21" fill="none"/>
<path d="M7502,4581 L7698,4581" stroke="#a81414" stroke-width="21" fill="none"/>
<text x="7550.0" y="4473.2" font-size="73.3" fill="#36a5a5" stroke="#36a5a5" stroke-width="1.2" text-anchor="middle" textLength="90.5" lengthAdjust="spacingAndGlyphs">C6</text>
<text x="7795.0" y="4576.2" font-size="73.3" fill="#36a5a5" stroke="#36a5a5" stroke-width="1.2" text-anchor="middle" textLength="176.2" lengthAdjust="spacingAndGlyphs">22nF</text>
<path d="M8500,4400 L8600,4400" stroke="#cb7979" stroke-width="11.8" fill="none"/>
<path d="M8900,4400 L9000,4400" stroke="#cb7979" stroke-width="11.8" fill="none"/>
<rect x="8600" y="4360" width="300" height="80" stroke="#ab2020" stroke-width="14.5" fill="none"/>
<text x="8750.0" y="4426.2" font-size="73.3" fill="#36a5a5" stroke="#36a5a5" stroke-width="1.2" text-anchor="middle" textLength="138.1" lengthAdjust="spacingAndGlyphs">R10</text>
<text x="8750.0" y="4526.2" font-size="73.3" fill="#36a5a5" stroke="#36a5a5" stroke-width="1.2" text-anchor="middle" textLength="152.4" lengthAdjust="spacingAndGlyphs">1,5k</text>
<path d="M9004,4450 L9092,4450" stroke="#b03636" stroke-width="9" fill="none"/>
<path d="M9017,4450 L9002,4485" stroke="#b03636" stroke-width="8.5" fill="none"/>
<path d="M9037,4450 L9022,4485" stroke="#b03636" stroke-width="8.5" fill="none"/>
<path d="M9057,4450 L9042,4485" stroke="#b03636" stroke-width="8.5" fill="none"/>
<path d="M9077,4450 L9062,4485" stroke="#b03636" stroke-width="8.5" fill="none"/>
<path d="M9097,4450 L9082,4485" stroke="#b03636" stroke-width="8.5" fill="none"/>
<path d="M8050,4650 L8150,4650" stroke="#cb7979" stroke-width="11.8" fill="none"/>
<path d="M8450,4650 L8550,4650" stroke="#cb7979" stroke-width="11.8" fill="none"/>
<rect x="8150" y="4610" width="300" height="80" stroke="#ab2020" stroke-width="14.5" fill="none"/>
<text x="8300.0" y="4676.2" font-size="73.3" fill="#36a5a5" stroke="#36a5a5" stroke-width="1.2" text-anchor="middle" textLength="138.1" lengthAdjust="spacingAndGlyphs">R11</text>
<text x="8300.0" y="4776.2" font-size="73.3" fill="#36a5a5" stroke="#36a5a5" stroke-width="1.2" text-anchor="middle" textLength="128.6" lengthAdjust="spacingAndGlyphs">68k</text>
<path d="M8050,5150 L8150,5150" stroke="#cb7979" stroke-width="11.8" fill="none"/>
<path d="M8450,5150 L8550,5150" stroke="#cb7979" stroke-width="11.8" fill="none"/>
<rect x="8150" y="5110" width="300" height="80" stroke="#ab2020" stroke-width="14.5" fill="none"/>
<text x="8300.0" y="5176.2" font-size="73.3" fill="#36a5a5" stroke="#36a5a5" stroke-width="1.2" text-anchor="middle" textLength="138.1" lengthAdjust="spacingAndGlyphs">R13</text>
<text x="8300.0" y="5076.2" font-size="73.3" fill="#36a5a5" stroke="#36a5a5" stroke-width="1.2" text-anchor="middle" textLength="128.6" lengthAdjust="spacingAndGlyphs">68k</text>
<path d="M8050,5250 L8150,5250" stroke="#cb7979" stroke-width="11.8" fill="none"/>
<path d="M8450,5250 L8550,5250" stroke="#cb7979" stroke-width="11.8" fill="none"/>
<rect x="8150" y="5210" width="300" height="80" stroke="#ab2020" stroke-width="14.5" fill="none"/>
<text x="8300.0" y="5276.2" font-size="73.3" fill="#36a5a5" stroke="#36a5a5" stroke-width="1.2" text-anchor="middle" textLength="138.1" lengthAdjust="spacingAndGlyphs">R14</text>
<text x="8300.0" y="5376.2" font-size="73.3" fill="#36a5a5" stroke="#36a5a5" stroke-width="1.2" text-anchor="middle" textLength="97.6" lengthAdjust="spacingAndGlyphs">1M</text>
<path d="M7704,5500 L7792,5500" stroke="#b03636" stroke-width="9" fill="none"/>
<path d="M7717,5500 L7702,5535" stroke="#b03636" stroke-width="8.5" fill="none"/>
<path d="M7737,5500 L7722,5535" stroke="#b03636" stroke-width="8.5" fill="none"/>
<path d="M7757,5500 L7742,5535" stroke="#b03636" stroke-width="8.5" fill="none"/>
<path d="M7777,5500 L7762,5535" stroke="#b03636" stroke-width="8.5" fill="none"/>
<path d="M7797,5500 L7782,5535" stroke="#b03636" stroke-width="8.5" fill="none"/>
<circle cx="5350" cy="2150" r="19" fill="#009a00"/>
<circle cx="5700" cy="2150" r="19" fill="#009a00"/>
<circle cx="5950" cy="2150" r="19" fill="#009a00"/>
<circle cx="5350" cy="2650" r="19" fill="#009a00"/>
<circle cx="5950" cy="2650" r="19" fill="#009a00"/>
<circle cx="6550" cy="2650" r="19" fill="#009a00"/>
<circle cx="5350" cy="2950" r="19" fill="#009a00"/>
<circle cx="3800" cy="3500" r="19" fill="#009a00"/>
<circle cx="4150" cy="3450" r="19" fill="#009a00"/>
<circle cx="3900" cy="3750" r="19" fill="#009a00"/>
<circle cx="4300" cy="3750" r="19" fill="#009a00"/>
<circle cx="3800" cy="4000" r="19" fill="#009a00"/>
<circle cx="4000" cy="4000" r="19" fill="#009a00"/>
<circle cx="4850" cy="3600" r="19" fill="#009a00"/>
<circle cx="5200" cy="3750" r="19" fill="#009a00"/>
<circle cx="5350" cy="4250" r="19" fill="#009a00"/>
<circle cx="5850" cy="3750" r="19" fill="#009a00"/>
<circle cx="6350" cy="4300" r="19" fill="#009a00"/>
<circle cx="6550" cy="3650" r="19" fill="#009a00"/>
<circle cx="7400" cy="3050" r="19" fill="#009a00"/>
<circle cx="8750" cy="2850" r="19" fill="#009a00"/>
<circle cx="8750" cy="3000" r="19" fill="#009a00"/>
<circle cx="7400" cy="4400" r="19" fill="#009a00"/>
<circle cx="7600" cy="4300" r="19" fill="#009a00"/>
<circle cx="7400" cy="5450" r="19" fill="#009a00"/>
<circle cx="7750" cy="5450" r="19" fill="#009a00"/>
<circle cx="8050" cy="5450" r="19" fill="#009a00"/>
<circle cx="8600" cy="5450" r="19" fill="#009a00"/>
<circle cx="8050" cy="4650" r="19" fill="#009a00"/>
<circle cx="8550" cy="5200" r="19" fill="#009a00"/>
<circle cx="8650" cy="5200" r="19" fill="#009a00"/>
<circle cx="8600" cy="5300" r="19" fill="#009a00"/>
<text y="7168.5" font-size="93.6" fill="#a82020" stroke="#a82020" stroke-width="1.0" font-weight="bold"><tspan x="7099.2" textLength="91.6" lengthAdjust="spacingAndGlyphs">Lo</tspan> <tspan x="7246.1" textLength="339.5" lengthAdjust="spacingAndGlyphs">Spaccio</tspan> <tspan x="7643.9" textLength="67.9" lengthAdjust="spacingAndGlyphs">di</tspan> <tspan x="7770.3" textLength="206.8" lengthAdjust="spacingAndGlyphs">Nova</tspan> <tspan x="8046.6" textLength="83.7" lengthAdjust="spacingAndGlyphs">−</tspan> <tspan x="8153.9" textLength="726.3" lengthAdjust="spacingAndGlyphs">www.enovaz.com</tspan></text>
<text y="7286.8" font-size="93.6" fill="#b43c3c" stroke="#b43c3c" stroke-width="1.5"><tspan x="7099.2" textLength="186.3" lengthAdjust="spacingAndGlyphs">File:</tspan> <tspan x="7332.9" textLength="323.7" lengthAdjust="spacingAndGlyphs">5f1.sch</tspan></text>
<text y="7405.0" font-size="93.6" fill="#b43c3c" stroke="#b43c3c" stroke-width="1.5"><tspan x="7099.2" textLength="268.4" lengthAdjust="spacingAndGlyphs">Sheet:</tspan> <tspan x="7422.9">/</tspan></text>
<text y="7523.3" font-size="93.6" fill="#a82020" stroke="#a82020" stroke-width="1.0" font-weight="bold"><tspan x="7099.2" textLength="221.0" lengthAdjust="spacingAndGlyphs">Title:</tspan> <tspan x="7361.3" textLength="584.2" lengthAdjust="spacingAndGlyphs">Amplificatore</tspan> <tspan x="7996.0" textLength="150.0" lengthAdjust="spacingAndGlyphs">5F1</tspan> <tspan x="8204.5" textLength="75.8" lengthAdjust="spacingAndGlyphs">−</tspan> <tspan x="8324.5" textLength="334.7" lengthAdjust="spacingAndGlyphs">Schema</tspan> <tspan x="8714.5" textLength="363.2" lengthAdjust="spacingAndGlyphs">elettrico</tspan> <tspan x="9132.9" textLength="336.3" lengthAdjust="spacingAndGlyphs">KIT_5F1</tspan></text>
<text y="7642.3" font-size="93.6" fill="#b43c3c" stroke="#b43c3c" stroke-width="1.5"><tspan x="7099.2" textLength="178.4" lengthAdjust="spacingAndGlyphs">Size:</tspan> <tspan x="7356.6" textLength="99.5" lengthAdjust="spacingAndGlyphs">A4</tspan></text>
<text y="7642.3" font-size="93.6" fill="#b43c3c" stroke="#b43c3c" stroke-width="1.5"><tspan x="7940.8" textLength="213.2" lengthAdjust="spacingAndGlyphs">Date:</tspan> <tspan x="8209.2" textLength="102.6" lengthAdjust="spacingAndGlyphs">28</tspan> <tspan x="8375.0" textLength="142.1" lengthAdjust="spacingAndGlyphs">nov</tspan> <tspan x="8567.6" textLength="217.9" lengthAdjust="spacingAndGlyphs">2014</tspan></text>
<text y="7760.6" font-size="93.6" fill="#b43c3c" stroke="#b43c3c" stroke-width="1.5"><tspan x="7099.2" textLength="241.6" lengthAdjust="spacingAndGlyphs">KiCad</tspan> <tspan x="7403.9" textLength="240.0" lengthAdjust="spacingAndGlyphs">E.D.A.</tspan> <tspan x="7743.4" textLength="426.3" lengthAdjust="spacingAndGlyphs">eeschema</tspan> <tspan x="8229.7" textLength="626.8" lengthAdjust="spacingAndGlyphs">(2012−01−19</tspan> <tspan x="8919.7" textLength="165.8" lengthAdjust="spacingAndGlyphs">BZR</tspan> <tspan x="9140.8" textLength="604.7" lengthAdjust="spacingAndGlyphs">3256)−stable</tspan></text>
<text y="7642.3" font-size="93.6" fill="#a82020" stroke="#a82020" stroke-width="1.0" font-weight="bold"><tspan x="10416.5" textLength="181.6" lengthAdjust="spacingAndGlyphs">Rev:</tspan> <tspan x="10645.5" textLength="186.3" lengthAdjust="spacingAndGlyphs">1.31</tspan></text>
<text y="7760.6" font-size="93.6" fill="#b43c3c" stroke="#b43c3c" stroke-width="1.5"><tspan x="10416.5" textLength="102.6" lengthAdjust="spacingAndGlyphs">Id:</tspan> <tspan x="10574.4" textLength="157.9" lengthAdjust="spacingAndGlyphs">1/1</tspan></text>
</g>
</svg>
<div id="edgeL"></div><div id="edgeG"></div><div id="edgeB"></div>
</body></html>
